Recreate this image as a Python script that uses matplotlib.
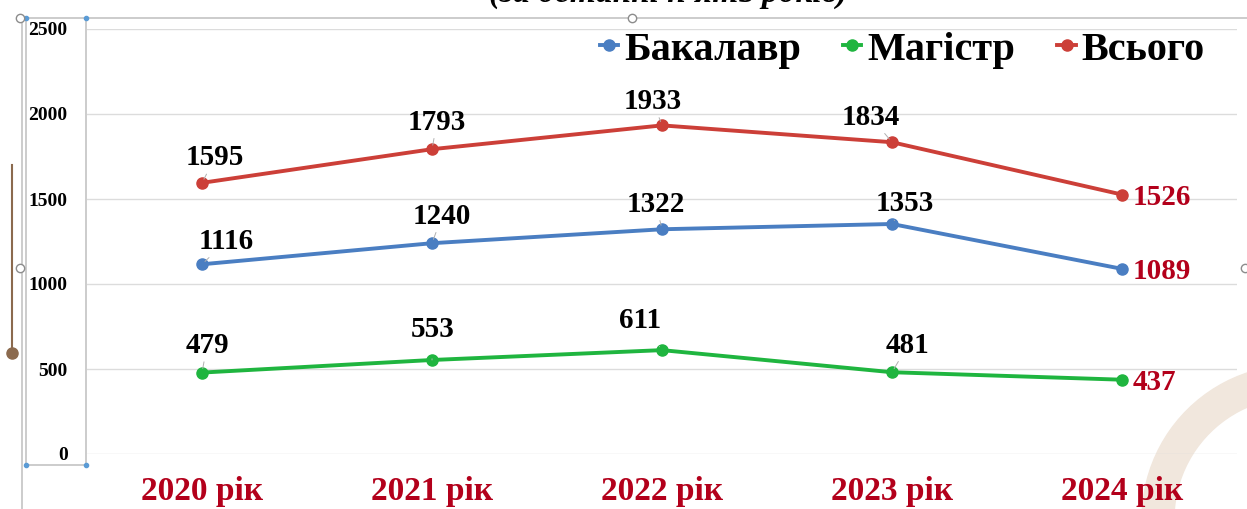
import matplotlib
matplotlib.use('Agg')
import matplotlib.pyplot as plt
from matplotlib.lines import Line2D
from matplotlib.patches import Wedge
import numpy as np

years = ['2020 рік', '2021 рік', '2022 рік', '2023 рік', '2024 рік']
bachelor = [1116, 1240, 1322, 1353, 1089]
master = [479, 553, 611, 481, 437]
total = [1595, 1793, 1933, 1834, 1526]
yticks = [0, 500, 1000, 1500, 2000, 2500]

W, H = 1247, 509
plt.rcParams['font.family'] = ['Liberation Serif', 'DejaVu Serif']

fig = plt.figure(figsize=(W / 100, H / 100), dpi=100)
ax = fig.add_axes([87 / W, 55 / H, 1150 / W, 425 / H])
ax.patch.set_alpha(0)


def px(x, y):
    # pixel coords (from top-left) -> figure fraction
    return x / W, 1 - y / H


# background arc in bottom right corner (screenshot artefact)
arc = Wedge((1296, H - 519), 154, 90, 200, width=32, color='#f1e7dd',
            transform=None, zorder=-5)
fig.add_artist(arc)

x = np.arange(len(years))
blue = '#4a7ec2'
green = '#1fb53f'
red = '#cc3f38'
dark_red = '#b3001b'

ax.plot(x, bachelor, color=blue, lw=2.8, marker='o', ms=8, label='Бакалавр', zorder=3)
ax.plot(x, master, color=green, lw=2.8, marker='o', ms=8, label='Магістр', zorder=3)
ax.plot(x, total, color=red, lw=2.8, marker='o', ms=8, label='Всього', zorder=3)

ax.set_xlim(-0.5, len(years) - 0.5)
ax.set_ylim(0, 2500)
ax.set_yticks(yticks)
ax.set_xticks(x)
ax.set_xticklabels(years, fontsize=24, fontweight='bold', color=dark_red)
ax.set_yticklabels([str(v) for v in yticks], fontsize=14, fontweight='bold')
ax.tick_params(axis='y', length=0, pad=14)
ax.tick_params(axis='x', length=0, pad=16)
ax.grid(axis='y', color='#dcdcdc', lw=1)
ax.set_axisbelow(True)
for s in ax.spines.values():
    s.set_visible(False)

# label offsets in pixels (dx, dy up)
off_total = [(13, 25), (5, 27), (-9, 24), (-21, 25)]
off_bach = [(24, 23), (10, 27), (-6, 25), (13, 20)]
off_mast = [(5, 27), (1, 30), (-22, 30), (16, 27)]

for vals, offs in [(total, off_total), (bachelor, off_bach), (master, off_mast)]:
    for i, (v, o) in enumerate(zip(vals[:-1], offs)):
        ax.annotate(str(v), (i, v), xytext=(o[0] * 0.72, o[1] * 0.72),
                    textcoords='offset points', ha='center', va='center',
                    fontsize=21, fontweight='bold', color='black',
                    arrowprops=dict(arrowstyle='-', color='#b0b0b0', lw=0.7,
                                    shrinkA=9, shrinkB=3))
    ax.annotate(str(vals[-1]), (len(vals) - 1, vals[-1]), xytext=(8, -2),
                textcoords='offset points', ha='left', va='center',
                fontsize=21, fontweight='bold', color=dark_red)

leg = fig.legend(loc='center right', bbox_to_anchor=(1241 / W, 1 - 50 / H),
                 ncol=3, frameon=False, handlelength=0.45, handletextpad=0.15,
                 columnspacing=1.05, prop={'size': 29, 'weight': 'bold'})
for h in leg.legend_handles:
    h.set_markersize(8)

# cut-off title at the very top
fig.text(668 / W, 1 - 2 / H, '(за останні п\'ять років)', ha='center', va='baseline',
         fontsize=24, fontweight='bold', fontstyle='italic')

# Word selection frame artefacts
frame = '#c4c4c4'
for (x0, y0), (x1, y1) in [((20, 18), (1247, 18)), ((22, 18), (22, 509)),
                           ((26, 18), (26, 465)), ((86, 18), (86, 465)),
                           ((26, 465), (86, 465))]:
    a, b = px(x0, y0)
    c, d = px(x1, y1)
    fig.add_artist(Line2D([a, c], [b, d], color=frame, lw=1.2))
for (hx, hy) in [(26, 18), (86, 18), (26, 465), (86, 465)]:
    a, b = px(hx, hy)
    fig.add_artist(Line2D([a], [b], marker='o', ms=3, color='#5b9bd5', lw=0))
for (hx, hy) in [(20, 18), (20, 268), (632, 18), (1245, 268)]:
    a, b = px(hx, hy)
    fig.add_artist(Line2D([a], [b], marker='o', ms=6, mfc='white', mec='#8c8c8c', lw=0))
# brown rotation slider
a, b = px(12, 165)
c, d = px(12, 353)
fig.add_artist(Line2D([a, c], [b, d], color='#8b6a4e', lw=1.5))
fig.add_artist(Line2D([c], [d], marker='o', ms=8, color='#8b6a4e', lw=0))

fig.savefig('out.png', dpi=100)
